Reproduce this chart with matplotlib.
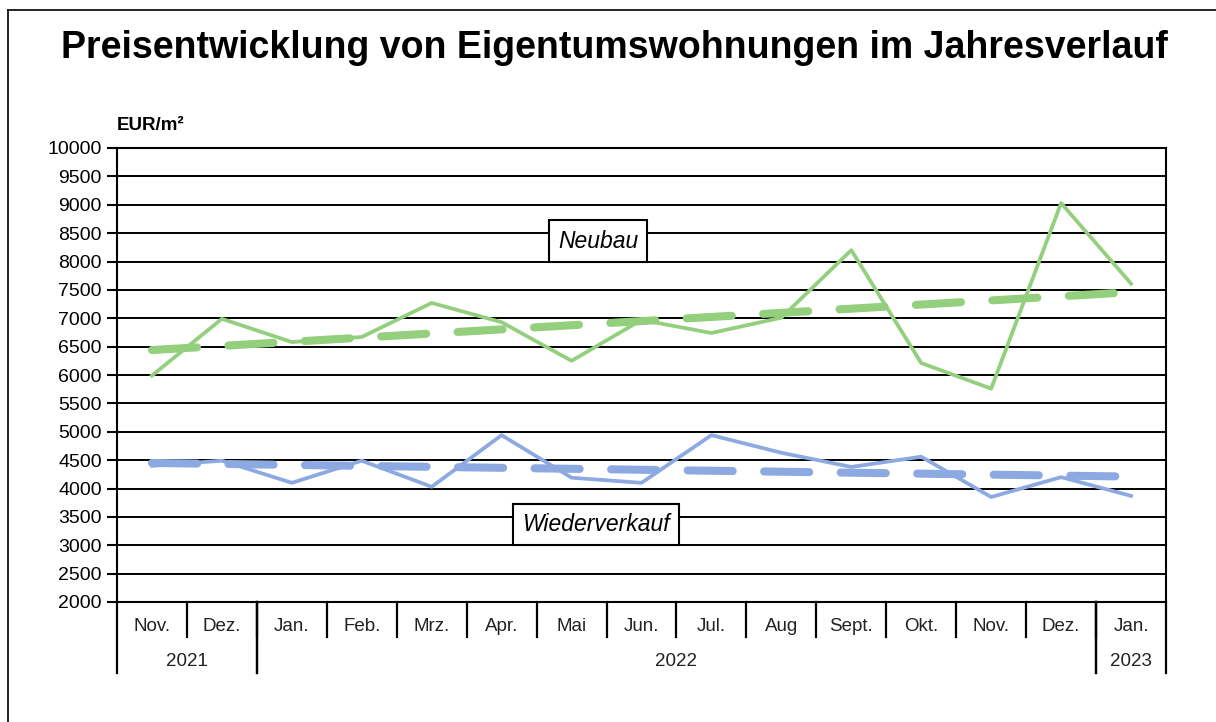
import matplotlib.pyplot as plt

plt.rcParams['font.family'] = ['Liberation Sans', 'DejaVu Sans']

months = ['Nov.', 'Dez.', 'Jan.', 'Feb.', 'Mrz.', 'Apr.', 'Mai', 'Jun.',
          'Jul.', 'Aug', 'Sept.', 'Okt.', 'Nov.', 'Dez.', 'Jan.']
years = ['2021', '2022', '2023']
year_spans = [(0, 2), (2, 14), (14, 15)]   # month index ranges per year

neubau = [5990, 6990, 6580, 6670, 7270, 6930, 6250, 6970,
          6740, 7010, 8200, 6210, 5760, 9030, 7610]
wiederverkauf = [4400, 4490, 4100, 4490, 4030, 4940, 4190, 4100,
                 4940, 4630, 4380, 4560, 3850, 4200, 3870]
# trend lines (start / end value)
neubau_trend = [6440, 7460]
wieder_trend = [4450, 4210]

green = '#93CF7C'
blue = '#8DA9E1'

fig = plt.figure(figsize=(12.16, 7.22), dpi=100)
ax = fig.add_axes([117/1216, 1 - 602/722, 1049/1216, 454/722])

x = list(range(len(months)))
ax.plot(x, neubau, color=green, linewidth=2.7, zorder=3)
ax.plot(x, wiederverkauf, color=blue, linewidth=2.7, zorder=3)
ax.plot([x[0], x[-1]], neubau_trend, color=green, linewidth=5.8,
        dashes=(5.6, 3.9), dash_capstyle='round', zorder=4)
ax.plot([x[0], x[-1]], wieder_trend, color=blue, linewidth=5.8,
        dashes=(5.6, 3.9), dash_capstyle='round', zorder=4)

ax.set_xlim(-0.5, len(months) - 0.5)
ax.set_ylim(2000, 10000)
ax.set_yticks(range(2000, 10001, 500))
ax.tick_params(axis='y', direction='out', length=7, width=1.5,
               labelsize=14, pad=4, colors='black')
ax.yaxis.grid(True, color='black', linewidth=1.4)
ax.set_axisbelow(True)
for s in ax.spines.values():
    s.set_linewidth(1.5)
    s.set_color('black')

# x axis: month labels with separators, year row below
ax.set_xticks([])
trans = ax.get_xaxis_transform()
for i, m in enumerate(months):
    ax.text(i, -0.053, m, transform=trans, ha='center', va='center',
            fontsize=13.5, color='#222222')
for i in range(1, len(months)):
    ax.plot([i - 0.5, i - 0.5], [0, -0.077], transform=trans, color='black',
            linewidth=1.6, clip_on=False)
for (a, b), yr in zip(year_spans, years):
    ax.text((a + b - 1) / 2, -0.13, yr, transform=trans, ha='center',
            va='center', fontsize=13.5, color='#222222')
    for edge in (a, b):
        ax.plot([edge - 0.5, edge - 0.5], [0, -0.156], transform=trans,
                color='black', linewidth=1.6, clip_on=False)

ax.text(0, 1.05, 'EUR/m²', transform=ax.transAxes, ha='left', va='center',
        fontsize=13.5, fontweight='bold')

box = dict(boxstyle='square,pad=0.4', facecolor='white', edgecolor='black',
           linewidth=1.5)
ax.text(0.4585, 0.795, 'Neubau', transform=ax.transAxes, ha='center',
        va='center', fontsize=16.5, style='italic', bbox=box, zorder=5)
ax.text(0.4566, 0.170, 'Wiederverkauf', transform=ax.transAxes, ha='center',
        va='center', fontsize=16.5, style='italic', bbox=box, zorder=5)

fig.text(614/1216, 1 - 48/722,
         'Preisentwicklung von Eigentumswohnungen im Jahresverlauf',
         ha='center', va='center', fontsize=27, fontweight='bold')

# partial outer frame (left and top edge)
fig.add_artist(plt.Line2D([8/1216, 8/1216], [0, 1 - 10/722],
                          transform=fig.transFigure, color='black', linewidth=1.2))
fig.add_artist(plt.Line2D([8/1216, 1], [1 - 10/722, 1 - 10/722],
                          transform=fig.transFigure, color='black', linewidth=1.2))

fig.savefig('out.png', dpi=100)
